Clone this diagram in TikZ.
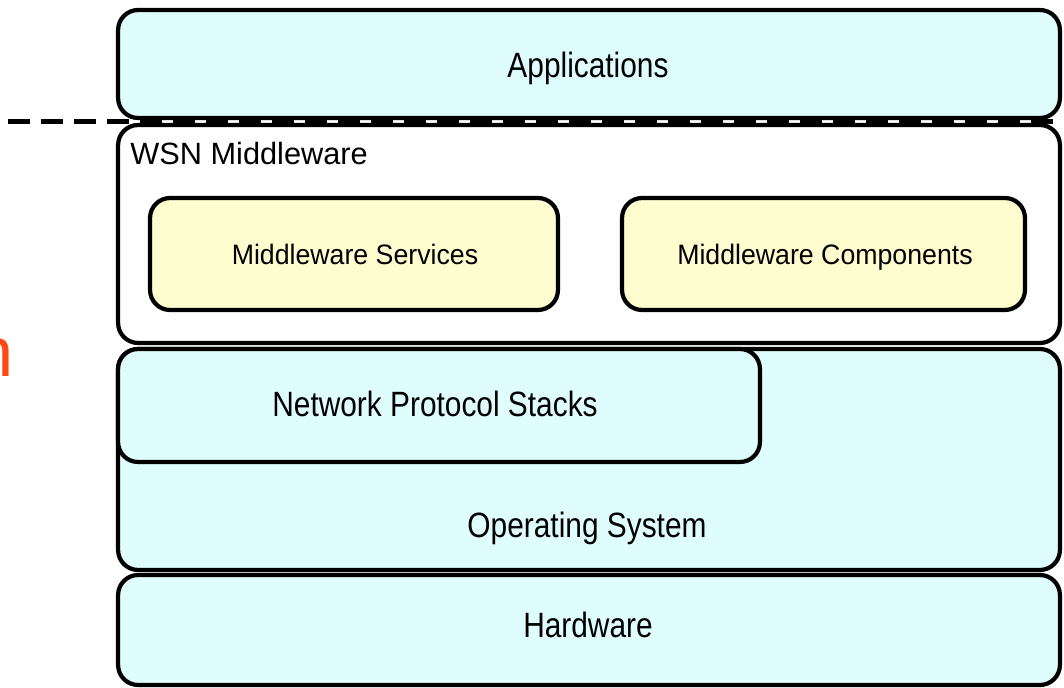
\documentclass[tikz,border=0pt]{standalone}
\usepackage{fontspec}
\setmainfont{Liberation Sans}
\newfontfamily\condfont[FakeStretch=0.85]{Liberation Sans}
\newfontfamily\servfont[FakeStretch=0.95]{Liberation Sans}
\usepackage{xcolor}
\usepackage{tikz}
\definecolor{WSNCyan}{HTML}{E0FDFD}
\definecolor{WSNYellow}{HTML}{FDFDCF}
\definecolor{WSNOrange}{HTML}{FF4A14}

\tikzset{
  layerbox/.style={draw=black,line width=2.4pt,rounded corners=0.4cm,fill=WSNCyan,inner sep=0pt},
  servbox/.style={draw=black,line width=2.4pt,rounded corners=0.4cm,fill=WSNYellow,inner sep=0pt},
  layertext/.style={inner sep=0pt,anchor=base,font=\condfont\fontsize{20}{24}\selectfont},
  servtext/.style={inner sep=0pt,anchor=base,font=\servfont\fontsize{16}{19}\selectfont}
}

\begin{document}
\begin{tikzpicture}[x=0.02cm,y=-0.02cm]
\useasboundingbox (0,0) rectangle (1064,688);
\node[layerbox,minimum width=18.84cm,minimum height=2.16cm] (apps) at (589,64) {};
\node[layerbox,fill=white,minimum width=18.84cm,minimum height=4.36cm] (mw) at (589,234) {};
\node[servbox,minimum width=8.16cm,minimum height=2.24cm] (serv) at (354,254) {};
\node[servbox,minimum width=8.06cm,minimum height=2.24cm] (comp) at (823.5,254) {};
\node[layerbox,minimum width=18.84cm,minimum height=4.42cm] (os) at (589,459.5) {};
\node[layerbox,minimum width=12.84cm,minimum height=2.26cm] (net) at (439,405.5) {};
\node[layerbox,minimum width=18.84cm,minimum height=2.2cm] (hw) at (589,630) {};
% labels
\node[layertext] (appslabel) at (588,78) {Applications};
\node[inner sep=0pt,anchor=base west,font=\fontsize{17.5}{21}\selectfont] (mwlabel) at (130,165) {WSN Middleware};
\node[servtext] (servlabel) at (355,265) {Middleware Services};
\node[servtext] (complabel) at (825,265) {Middleware Components};
\node[layertext] (netlabel) at (435,417) {Network Protocol Stacks};
\node[layertext] (oslabel) at (587,538) {Operating System};
\node[layertext] (hwlabel) at (588,637) {Hardware};
% boundary line
\coordinate (cut) at (8,121.5);
\draw[line width=2.8pt,dash pattern=on 0.44cm off 0.22cm] (cut) -- (cut -| apps.east);
\node[inner sep=0pt,anchor=base east,text=WSNOrange,font=\fontsize{40}{44}\selectfont] (ncut) at (14,377) {n};
\end{tikzpicture}
\end{document}
